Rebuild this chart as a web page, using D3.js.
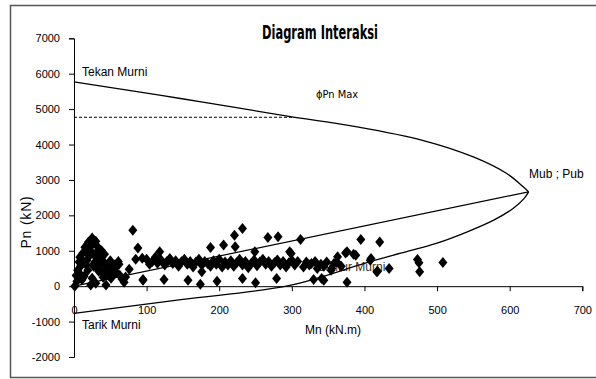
<!DOCTYPE html>
<html><head><meta charset="utf-8">
<script src="https://cdn.jsdelivr.net/npm/d3@7"></script>
<style>
html,body{margin:0;padding:0;background:#fff;}
svg{display:block;}
text{font-family:"Liberation Sans",Arial,sans-serif;fill:#000;}
</style></head><body>
<svg id="c" width="596" height="379"></svg>
<script>
// ---- data ----
const title = "Diagram Interaksi";
const xTicks = [0,100,200,300,400,500,600,700];
const yTicks = [-2000,-1000,0,1000,2000,3000,4000,5000,6000,7000];
const xTitle = "Mn (kN.m)";
const yTitle = "Pn  (kN)";

// interaction curve: compression branch (Tekan Murni -> balanced point)
const upperM = [0, 60, 120, 173, 230, 300, 390, 480, 550, 596, 619, 626];
const upperP = [5770, 5580, 5390, 5210, 5020, 4780, 4500, 4120, 3650, 3180, 2800, 2664];
// tension branch (Tarik Murni -> balanced point)
const lowerM = [0, 150, 297, 400, 450, 500, 540, 578, 605, 620, 626];
const lowerP = [-770, -375, 20, 645, 930, 1215, 1520, 1864, 2200, 2480, 2664];
// line origin -> balanced point
const balM = [0, 626];
const balP = [0, 2664];
// phi Pn max
const phiM = [0, 303];
const phiP = [4770, 4770];

// load points (Mu, Pu)
const loadM = [1,4,5,7,12,15,19,25,30,22,28,18,29,36,41,33,39,19,14,25,30,47,52,51,61,63,69,76,81,88,94,95,23,44,8,17,33,10,45,56,35,40,27,20,58,66,85,71,
 3,9,13,16,21,24,27,31,34,37,42,46,49,54,11,26,38,43,50,57,62,
 100,104,108,112,115,118,120,125,128,132,136,140,144,148,152,156,160,164,168,172,176,176,180,184,188,188,192,196,200,204,206,208,212,216,220,221,222,224,228,232,232,236,240,244,248,249,252,256,260,264,267,268,272,276,280,281,284,288,292,296,297,299,300,304,308,312,316,320,324,327,332,335,340,344,348,354,355,358,362,363,368,374,376,385,388,395,408,409,417,418,421,434,473,475,476,508,
 95,124,157,174,197,232,250,279,330,341,344,376];
const loadP = [0,140,450,680,930,1100,1190,1360,1270,1020,875,735,680,790,680,510,395,450,280,225,85,310,450,225,700,310,110,480,1580,1080,790,170,30,30,820,600,1100,300,560,600,950,250,560,1250,390,200,760,260,
 300,560,700,1000,850,1150,620,950,420,650,900,380,580,340,180,1300,1000,470,720,520,620,
 760,620,700,820,650,970,740,600,700,780,640,720,560,690,760,620,700,540,680,760,600,405,700,640,1090,560,720,620,760,540,1160,680,600,720,560,1440,1110,660,760,1630,600,700,520,640,740,970,580,680,760,620,1375,700,560,660,740,1394,600,700,540,660,970,924,734,600,700,1320,545,680,600,640,700,500,620,560,680,452,500,640,686,830,560,940,970,904,876,1320,734,782,405,420,1251,500,754,660,405,670,
 190,190,170,56,140,218,94,218,190,218,170,110];

// ---- chart ----
const svg = d3.select("#c");
const x = d3.scaleLinear().domain([0,700]).range([74,582.3]);
const y = d3.scaleLinear().domain([-2000,7000]).range([357,38.3]);

// outer border
svg.append("rect").attr("x",10.5).attr("y",5.5).attr("width",590).attr("height",372)
  .attr("fill","none").attr("stroke","#555").attr("stroke-width",1.5);

// title
svg.append("text").attr("x",0).attr("y",0)
  .attr("text-anchor","middle")
  .attr("transform","translate(320,39) scale(1,1.6)")
  .attr("textLength",116).attr("lengthAdjust","spacingAndGlyphs")
  .style("font-family","'DejaVu Sans Condensed','DejaVu Sans',sans-serif")
  .style("font-weight","bold").style("font-size","12.5px")
  .text(title);

// y axis
const yAxis = d3.axisLeft(y).tickValues(yTicks).tickSize(5).tickFormat(d => String(d));
const gy = svg.append("g").attr("transform","translate(74,0)").call(yAxis);
gy.select(".domain").attr("stroke","#000");
gy.selectAll(".tick line").attr("stroke","#000");
gy.selectAll(".tick text").attr("x",-14).style("font-size","11px").style("font-family","'Liberation Sans',Arial,sans-serif");

// x axis at P = 0
const xAxis = d3.axisBottom(x).tickValues(xTicks).tickSize(5).tickFormat(d => String(d));
const gx = svg.append("g").attr("transform",`translate(0,${y(0)})`).call(xAxis);
gx.select(".domain").attr("stroke","#000");
gx.selectAll(".tick line").attr("stroke","#000");
gx.selectAll(".tick text").attr("y",20).style("font-size","11px").style("font-family","'Liberation Sans',Arial,sans-serif");

// axis titles
svg.append("text").attr("x",333).attr("y",334).attr("text-anchor","middle")
  .style("font-size","12px").text(xTitle);
svg.append("text").attr("transform","translate(31,222) rotate(-90)").attr("text-anchor","middle")
  .style("font-size","14px").style("letter-spacing","0.8px").text(yTitle);

// annotation behind markers
svg.append("text").attr("x",318).attr("y",271).style("font-size","12px").style("fill","#333").text("Lentur Murni");

const line = d3.line().x(d=>x(d[0])).y(d=>y(d[1]));
const smooth = d3.line().x(d=>x(d[0])).y(d=>y(d[1])).curve(d3.curveCatmullRom.alpha(0.5));

svg.append("path").attr("d", smooth(upperM.map((m,i)=>[m,upperP[i]])))
  .attr("fill","none").attr("stroke","#000").attr("stroke-width",1.3);
svg.append("path").attr("d", smooth(lowerM.map((m,i)=>[m,lowerP[i]])))
  .attr("fill","none").attr("stroke","#000").attr("stroke-width",1.3);
svg.append("path").attr("d", line(balM.map((m,i)=>[m,balP[i]])))
  .attr("fill","none").attr("stroke","#000").attr("stroke-width",1.2);
svg.append("path").attr("d", line(phiM.map((m,i)=>[m,phiP[i]])))
  .attr("fill","none").attr("stroke","#000").attr("stroke-width",1).attr("stroke-dasharray","3,2");

// markers
const diamond = "M0,-5.5L4.5,0L0,5.5L-4.5,0Z";
svg.append("g").selectAll("path").data(loadM.map((m,i)=>[m,loadP[i]])).join("path")
  .attr("d",diamond).attr("transform",d=>`translate(${x(d[0])},${y(d[1])})`)
  .attr("fill","#000");

// annotations
svg.append("text").attr("x",82).attr("y",76).style("font-size","12px").text("Tekan Murni");
svg.append("text").attr("x",316).attr("y",98).style("font-size","11px").style("fill","#000")
  .style("font-family","'DejaVu Sans Condensed','Liberation Sans',sans-serif").text("\u03D5Pn Max");
svg.append("text").attr("x",529).attr("y",178).style("font-size","12px").text("Mub ; Pub");
svg.append("text").attr("x",82).attr("y",329).style("font-size","12px").text("Tarik Murni");
</script>
</body></html>
